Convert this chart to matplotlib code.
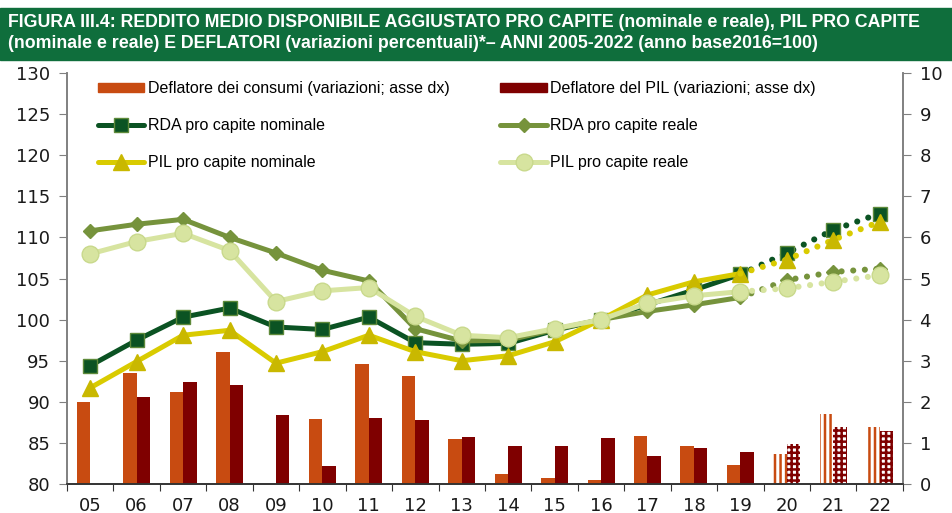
import matplotlib
matplotlib.use('Agg')
import matplotlib.pyplot as plt
import matplotlib.patches as mpatches
import numpy as np

years = ['05', '06', '07', '08', '09', '10', '11', '12', '13',
         '14', '15', '16', '17', '18', '19', '20', '21', '22']

# deflatori (asse dx, variazioni %)
defl_consumi = [2.00, 2.69, 2.24, 3.21, -0.03, 1.57, 2.91, 2.63, 1.10,
                0.24, 0.15, 0.10, 1.18, 0.93, 0.46, 0.73, 1.70, 1.39]
defl_pil = [np.nan, 2.12, 2.47, 2.40, 1.67, 0.44, 1.61, 1.55, 1.14,
            0.92, 0.92, 1.13, 0.69, 0.87, 0.78, 0.97, 1.39, 1.29]

# indici (asse sx, 2016=100)
rda_nom = [94.4, 97.5, 100.3, 101.4, 99.1, 98.8, 100.3, 97.2, 97.0,
           97.1, 98.7, 100.0, 101.8, 103.6, 105.5, 108.1, 110.9, 112.9]
rda_real = [110.8, 111.6, 112.2, 110.0, 108.1, 106.0, 104.7, 98.9, 97.4,
            97.5, 98.8, 100.0, 101.0, 101.8, 102.7, 104.8, 105.8, 106.2]
pil_nom = [91.7, 94.9, 98.1, 98.7, 94.7, 96.1, 98.1, 96.1, 95.0,
           95.6, 97.3, 100.0, 103.0, 104.6, 105.6, 107.3, 109.7, 111.9]
pil_real = [108.0, 109.5, 110.5, 108.4, 102.2, 103.5, 103.9, 100.4, 98.1,
            97.8, 98.9, 100.0, 102.0, 102.9, 103.4, 103.8, 104.6, 105.4]

n_obs = 15  # 2005-2019 osservati, 2020-2022 previsioni

plt.rcParams['hatch.linewidth'] = 1.8

x = np.arange(len(years))
fig = plt.figure(figsize=(9.52, 5.13), dpi=100)
ax = fig.add_axes([0.0704, 0.0565, 0.878, 0.8012])
ax2 = ax.twinx()
ax.set_zorder(ax2.get_zorder() + 1)
ax.patch.set_visible(False)

# barre
c_cons = '#C84B11'
c_pil = '#7F0000'
w = 0.29
ax2.bar(x[:n_obs] - w / 2, defl_consumi[:n_obs], w, color=c_cons)
ax2.bar(x[:n_obs] + w / 2, defl_pil[:n_obs], w, color=c_pil)
ax2.bar(x[n_obs:] - w / 2, defl_consumi[n_obs:], w, facecolor='white',
        edgecolor=c_cons, hatch='|||', linewidth=0)
ax2.bar(x[n_obs:] + w / 2, defl_pil[n_obs:], w, facecolor='white',
        edgecolor=c_pil, hatch='+++', linewidth=0)

# linee
series = [
    (rda_nom, 'RDA pro capite nominale', '#0B5323', 's', 10, '#0B5323', '#5E8A3A'),
    (rda_real, 'RDA pro capite reale', '#76933C', 'D', 7.5, '#76933C', '#76933C'),
    (pil_nom, 'PIL pro capite nominale', '#D9CB00', '^', 12, '#C9B800', '#C9B800'),
    (pil_real, 'PIL pro capite reale', '#D7E4A0', 'o', 12, '#D7E4A0', '#C9D98C'),
]
handles = {}
for vals, lab, col, mk, ms, mfc, mec in series:
    h, = ax.plot(x[:n_obs], vals[:n_obs], color=col, lw=3.6, marker=mk, ms=ms,
                 mfc=mfc, mec=mec, mew=1, label=lab, solid_capstyle='round')
    ax.plot(x[n_obs - 1:], vals[n_obs - 1:], color=col, lw=4.4,
            linestyle=(0, (0.01, 1.9)), dash_capstyle='round')
    ax.plot(x[n_obs:], vals[n_obs:], linestyle='none', marker=mk, ms=ms,
            mfc=mfc, mec=mec, mew=1)
    handles[lab] = h

h_cons = mpatches.Patch(color=c_cons, label='Deflatore dei consumi (variazioni; asse dx)')
h_pil = mpatches.Patch(color=c_pil, label='Deflatore del PIL (variazioni; asse dx)')
leg_handles = [h_cons, handles['RDA pro capite nominale'], handles['PIL pro capite nominale'],
               h_pil, handles['RDA pro capite reale'], handles['PIL pro capite reale']]
ax.legend(handles=leg_handles, ncol=2, frameon=False, loc='upper left',
          bbox_to_anchor=(0.02, 1.015), prop={'family': 'Liberation Sans', 'size': 11.5},
          handlelength=2.9, handleheight=0.45, handletextpad=0.2,
          columnspacing=3.2, labelspacing=1.38)

# assi
ax.set_xlim(-0.5, len(years) - 0.5)
ax.set_ylim(80, 130)
ax.set_yticks(np.arange(80, 131, 5))
ax2.set_ylim(0, 10)
ax2.set_yticks(np.arange(0, 11, 1))
ax.set_xticks(np.arange(-0.5, len(years), 1))
ax.set_xticklabels([])
ax.set_xticks(x, minor=True)
ax.set_xticklabels(years, minor=True)
ax.tick_params(axis='x', which='major', direction='out', length=5, color='#333333')
ax.tick_params(axis='x', which='minor', length=0, pad=9, labelsize=13)
ax.tick_params(axis='y', direction='out', length=6, color='#808080', labelsize=13, pad=6)
ax2.tick_params(axis='y', direction='out', length=6, color='#808080', labelsize=13, pad=6)
for a in (ax, ax2):
    a.spines['top'].set_visible(False)
    a.spines['left'].set_color('#808080')
    a.spines['right'].set_color('#808080')
    a.spines['bottom'].set_color('#333333')
    a.spines['left'].set_linewidth(1.2)
    a.spines['right'].set_linewidth(1.2)
    a.spines['bottom'].set_linewidth(1.2)
for lab in ax.get_xticklabels(minor=True) + ax.get_yticklabels() + ax2.get_yticklabels():
    lab.set_color('#1a1a1a')

# titolo
fig.patches.append(mpatches.Rectangle((0, 1 - 60 / 513), 1, 52 / 513,
                                      transform=fig.transFigure,
                                      color='#0F6E3C', zorder=0))
title = ('FIGURA III.4: REDDITO MEDIO DISPONIBILE AGGIUSTATO PRO CAPITE (nominale e reale), PIL PRO CAPITE\n'
         '(nominale e reale) E DEFLATORI (variazioni percentuali)*\u2013 ANNI 2005-2022 (anno base2016=100)')
fig.text(8 / 952, 1 - 33 / 513, title, color='white', fontweight='bold',
         family=['Liberation Sans', 'DejaVu Sans'], fontsize=12.8,
         va='center', ha='left', linespacing=1.32)

fig.savefig('out.png', dpi=100)
